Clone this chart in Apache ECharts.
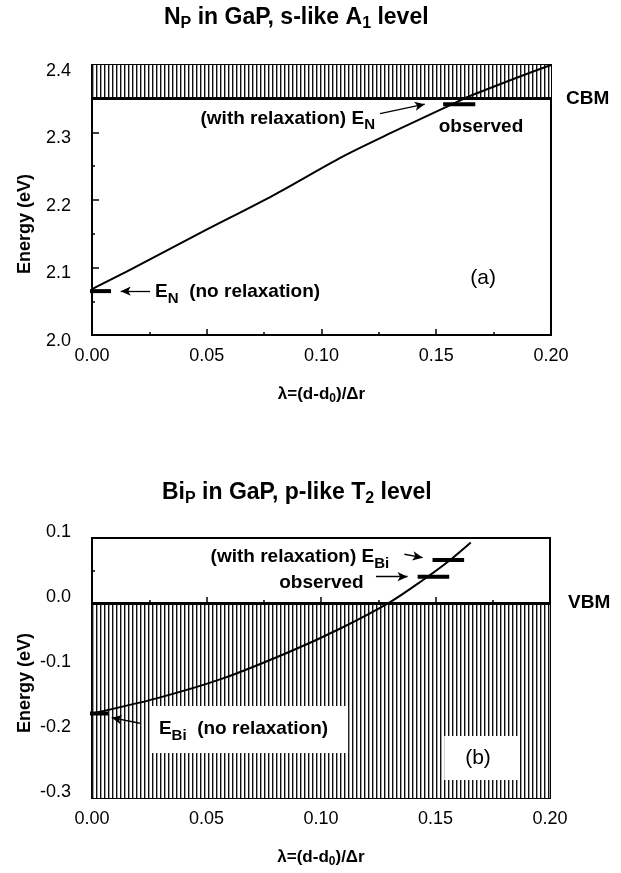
<!DOCTYPE html>
<html>
<head>
<meta charset="utf-8">
<script src="https://cdn.jsdelivr.net/npm/echarts@6/dist/echarts.min.js"></script>
<style>
  html, body { margin: 0; padding: 0; background: #fff; }
  #chart { width: 621px; height: 873px; }
</style>
</head>
<body>
<div id="chart"></div>
<script>
// (a) N_P in GaP : level energy vs lambda
const lambdaA = [0, 0.018, 0.047, 0.079, 0.109, 0.130, 0.157, 0.1647, 0.1865, 0.20];
const energyA = [2.068, 2.099, 2.151, 2.207, 2.264, 2.299, 2.342, 2.354, 2.383, 2.40];
const cbm = 2.352;
const bandTopA = 2.4;
const noRelaxA = [[-0.0052, 2.065], [0.0083, 2.065]];
const observedA = [[0.153, 2.342], [0.167, 2.342]];

// (b) Bi_P in GaP
const lambdaB = [0, 0.0282, 0.0572, 0.0863, 0.108, 0.130, 0.1444, 0.156, 0.1654];
const energyB = [-0.170, -0.1467, -0.116, -0.075, -0.040, 0.001, 0.035, 0.065, 0.093];
const vbm = 0.0;
const bandBottomB = -0.3;
const noRelaxB = [[-0.0062, -0.170], [0.0070, -0.170]];
const relaxB = [[0.1487, 0.066], [0.1625, 0.066]];
const observedB = [[0.1422, 0.0405], [0.156, 0.0405]];

const lambdaTicks = [0, 0.20, 0.05];      // min, max, interval
const energyTicksA = [2.0, 2.4, 0.1];
const energyTicksB = [-0.3, 0.1, 0.1];

const font = '"Liberation Sans", Arial, Helvetica, sans-serif';

function zip(xs, ys) {
    return xs.map((x, i) => [x, ys[i]]);
}

// vertical hatching used for the bands
function hatchPattern() {
    const c = document.createElement('canvas');
    c.width = 4;
    c.height = 4;
    const g = c.getContext('2d');
    g.fillStyle = '#fff';
    g.fillRect(0, 0, 4, 4);
    g.fillStyle = '#111';
    g.fillRect(0, 0, 1.4, 4);
    return c;
}
const hatch = { image: hatchPattern(), repeat: 'repeat' };

const subBold = { fontSize: 15, fontWeight: 'bold', fontFamily: font, padding: [14, 0, 0, 0] };
const subBoldTitle = { fontSize: 16, fontWeight: 'bold', fontFamily: font, padding: [12, 0, 0, 0] };

function xAxisOf(gi) {
    return {
        type: 'value', gridIndex: gi,
        min: lambdaTicks[0], max: lambdaTicks[1], interval: lambdaTicks[2],
        name: 'λ=(d-d{sub|0})/Δr',
        nameLocation: 'middle', nameGap: 48,
        nameTextStyle: {
            fontSize: 17, fontWeight: 'bold', color: '#000', fontFamily: font,
            rich: { sub: { fontSize: 12, fontWeight: 'bold', fontFamily: font, padding: [10, 0, 0, 0] } }
        },
        axisLine: { show: true, lineStyle: { color: '#000', width: 2 } },
        axisTick: { show: true, inside: true, length: 6, lineStyle: { color: '#000', width: 1.5 } },
        minorTick: { show: true, splitNumber: 2, length: 3, lineStyle: { color: '#000', width: 1.5 } },
        axisLabel: {
            fontSize: 18, color: '#000', fontFamily: font, margin: 12,
            formatter: v => v.toFixed(2)
        },
        splitLine: { show: false }
    };
}

function yAxisOf(gi, ticks, shiftDown) {
    return {
        type: 'value', gridIndex: gi,
        min: ticks[0], max: ticks[1], interval: ticks[2],
        name: 'Energy (eV)',
        nameLocation: 'middle', nameGap: 58, nameMoveOverlap: false,
        nameTextStyle: {
            fontSize: 18, fontWeight: 'bold', color: '#000', fontFamily: font,
            padding: [0, 2 * shiftDown, 0, 0]
        },
        axisLine: { show: true, lineStyle: { color: '#000', width: 2 } },
        axisTick: { show: true, inside: true, length: 7, lineStyle: { color: '#000', width: 1.5 } },
        minorTick: { show: true, splitNumber: 2, length: 3, lineStyle: { color: '#000', width: 1.5 } },
        axisLabel: {
            fontSize: 18, color: '#000', fontFamily: font, margin: 21,
            lineHeight: 12,
            verticalAlign: gi === 0 ? 'top' : 'bottom',
            formatter: v => v.toFixed(1)
        },
        splitLine: { show: false }
    };
}

function levelBar(name, pts, gi) {
    return {
        name: name, type: 'line', xAxisIndex: gi, yAxisIndex: gi,
        data: pts, symbol: 'none', clip: false, z: 4,
        lineStyle: { color: '#000', width: 4 }
    };
}

function note(coord, text, align, extra) {
    return Object.assign({
        coord: coord,
        label: {
            show: true, formatter: text, align: align, verticalAlign: 'middle',
            fontSize: 19, fontWeight: 'bold', color: '#000', fontFamily: font,
            rich: { sub: subBold }
        }
    }, extra || {});
}

function arrow(from, to) {
    return [{ coord: from, symbol: 'none' }, { coord: to, symbol: 'arrow', symbolSize: [7, 10] }];
}

const markPointBase = {
    symbol: 'circle', symbolSize: 1, silent: true,
    itemStyle: { color: 'rgba(0,0,0,0)' }
};
const arrowStyle = { color: '#000', width: 1.3, type: 'solid' };

let option = {
    animation: false,
    backgroundColor: '#fff',
    textStyle: { fontFamily: font, color: '#000' },
    title: [
        {
            text: 'N{sub|P} in GaP, s-like A{sub|1} level', left: 159, top: -1,
            textStyle: { fontSize: 23, fontWeight: 'bold', color: '#000', fontFamily: font, rich: { sub: subBoldTitle } }
        },
        {
            text: 'Bi{sub|P} in GaP, p-like T{sub|2} level', left: 157, top: 474,
            textStyle: { fontSize: 23, fontWeight: 'bold', color: '#000', fontFamily: font, rich: { sub: subBoldTitle } }
        }
    ],
    grid: [
        { left: 92, top: 65, right: 70, height: 270, show: true, borderColor: '#000', borderWidth: 2, backgroundColor: '#fff' },
        { left: 92, top: 538, right: 71, height: 260, show: true, borderColor: '#000', borderWidth: 2, backgroundColor: '#fff' }
    ],
    xAxis: [xAxisOf(0), xAxisOf(1)],
    yAxis: [yAxisOf(0, energyTicksA, 24), yAxisOf(1, energyTicksB, 15)],
    series: [
        {
            name: 'E_N', type: 'line', xAxisIndex: 0, yAxisIndex: 0,
            data: zip(lambdaA, energyA), symbol: 'none', smooth: 0.3, z: 3,
            lineStyle: { color: '#000', width: 2 },
            markArea: {
                silent: true,
                itemStyle: { color: hatch, opacity: 1, borderWidth: 0 },
                label: { show: false },
                data: [[{ yAxis: cbm }, { yAxis: bandTopA }]]
            },
            markLine: {
                silent: true, symbol: 'none', animation: false,
                lineStyle: { color: '#000', width: 3, type: 'solid' },
                label: {
                    show: true, position: 'end', distance: 15, formatter: 'CBM',
                    fontSize: 19, fontWeight: 'bold', color: '#000', fontFamily: font
                },
                data: [{ yAxis: cbm }]
            }
        },
        {
            name: 'notesA', type: 'line', xAxisIndex: 0, yAxisIndex: 0, data: [], z: 5,
            markLine: {
                silent: true, animation: false, lineStyle: arrowStyle, label: { show: false },
                data: [
                    arrow([0.1255, 2.328], [0.145, 2.342]),
                    arrow([0.0253, 2.065], [0.0125, 2.065])
                ]
            },
            markPoint: Object.assign({}, markPointBase, {
                data: [
                    note([0.1233, 2.321], '(with relaxation) E{sub|N}', 'right'),
                    note([0.1695, 2.309], 'observed', 'center'),
                    note([0.0275, 2.0645], 'E{sub|N}  (no relaxation)', 'left'),
                    note([0.1704, 2.084], '(a)', 'center', {
                        label: { show: true, formatter: '(a)', align: 'center', verticalAlign: 'middle', fontSize: 21, color: '#000', fontFamily: font }
                    })
                ]
            })
        },
        levelBar('E_N no relaxation', noRelaxA, 0),
        levelBar('E_N observed', observedA, 0),

        {
            name: 'E_Bi', type: 'line', xAxisIndex: 1, yAxisIndex: 1,
            data: zip(lambdaB, energyB), symbol: 'none', smooth: 0.3, z: 3,
            lineStyle: { color: '#000', width: 2 },
            markArea: {
                silent: true,
                itemStyle: { color: hatch, opacity: 1, borderWidth: 0 },
                label: { show: false },
                data: [[{ yAxis: bandBottomB }, { yAxis: vbm }]]
            },
            markLine: {
                silent: true, symbol: 'none', animation: false,
                lineStyle: { color: '#000', width: 3, type: 'solid' },
                label: {
                    show: true, position: 'end', distance: 18, formatter: 'VBM',
                    fontSize: 19, fontWeight: 'bold', color: '#000', fontFamily: font
                },
                data: [{ yAxis: vbm }]
            }
        },
        {
            name: 'notesB', type: 'line', xAxisIndex: 1, yAxisIndex: 1, data: [], z: 5,
            markLine: {
                silent: true, animation: false, lineStyle: arrowStyle, label: { show: false },
                data: [
                    arrow([0.1364, 0.075], [0.1444, 0.0697]),
                    arrow([0.124, 0.0405], [0.1378, 0.0405]),
                    arrow([0.0209, -0.185], [0.0086, -0.1765])
                ]
            },
            markPoint: Object.assign({}, markPointBase, {
                data: [
                    note([0.1298, 0.0705], '(with relaxation) E{sub|Bi}', 'right'),
                    note([0.1002, 0.0308], 'observed', 'center'),
                    {
                        coord: [0.0253, -0.1946],
                        label: {
                            show: true, formatter: 'E{sub|Bi}  (no relaxation)', align: 'left', verticalAlign: 'middle',
                            fontSize: 19, fontWeight: 'bold', color: '#000', fontFamily: font,
                            backgroundColor: '#fff', padding: [8, 20, 10, 9],
                            rich: { sub: subBold }
                        }
                    },
                    {
                        coord: [0.1538, -0.2385],
                        label: {
                            show: true, formatter: '(b)', align: 'left', verticalAlign: 'middle',
                            fontSize: 21, color: '#000', fontFamily: font, lineHeight: 22,
                            backgroundColor: '#fff', padding: [11, 28, 11, 21]
                        }
                    }
                ]
            })
        },
        levelBar('E_Bi no relaxation', noRelaxB, 1),
        levelBar('E_Bi with relaxation', relaxB, 1),
        levelBar('E_Bi observed', observedB, 1)
    ]
};

var myChart = echarts.init(document.getElementById('chart'));
myChart.setOption(option, true);
</script>
</body>
</html>
